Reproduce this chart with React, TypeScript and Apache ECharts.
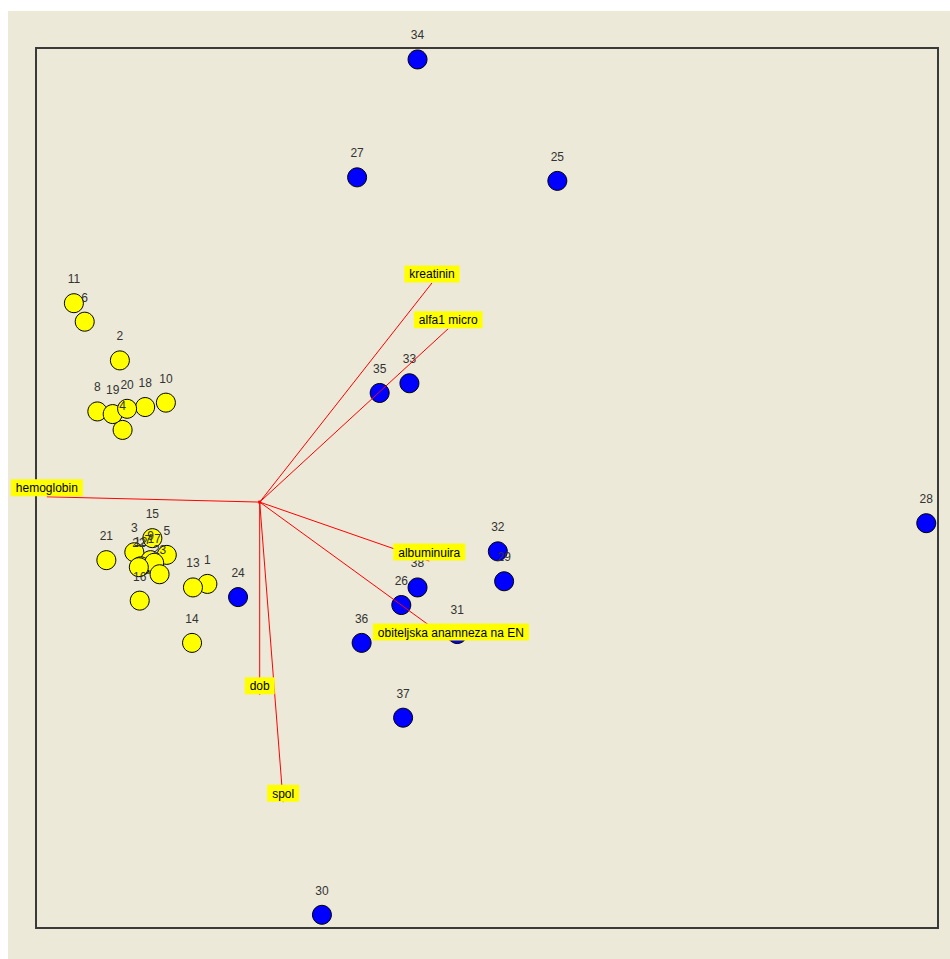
import React, { useEffect, useRef } from "react";
import * as echarts from "echarts";

// Object scores (biplot coordinates)
const groupAIds = [1, 2, 3, 4, 5, 6, 7, 8, 9, 10, 11, 12, 13, 14, 15, 16, 17, 18, 19, 20, 21, 22, 23];
const groupAX = [-3.10, -4.07, -3.91, -4.04, -3.55, -4.46, -3.76, -4.32, -3.73, -3.56, -4.58, -3.84, -3.26, -3.27, -3.71, -3.85, -3.69, -3.79, -4.15, -3.99, -4.22, -3.86, -3.63];
const groupAY = [-1.09, 1.45, -0.73, 0.66, -0.76, 1.89, -0.86, 0.87, -0.82, 0.97, 2.10, -0.89, -1.13, -1.76, -0.57, -1.28, -0.85, 0.92, 0.84, 0.90, -0.82, -0.90, -0.98];

const groupBIds = [24, 25, 26, 27, 28, 29, 30, 31, 32, 33, 34, 35, 36, 37, 38];
const groupBX = [-2.76, 0.78, -0.95, -1.44, 4.87, 0.19, -1.83, -0.33, 0.12, -0.86, -0.77, -1.19, -1.39, -0.93, -0.77];
const groupBY = [-1.24, 3.49, -1.33, 3.53, -0.40, -1.06, -4.85, -1.66, -0.72, 1.19, 4.87, 1.08, -1.76, -2.61, -1.13];

// Variable vectors
const origin = [-2.52, -0.16];
const varNames = ["hemoglobin", "kreatinin", "alfa1 micro", "albuminuira", "obiteljska anamneza na EN", "dob", "spol"];
const varX = [-4.88, -0.61, -0.43, -0.64, -0.40, -2.52, -2.26];
const varY = [-0.10, 2.33, 1.81, -0.83, -1.74, -2.35, -3.57];

const AX_MIN = -5;
const AX_MAX = 5;

export default function App() {
  const ref = useRef<HTMLDivElement>(null);
  useEffect(() => {
    if (!ref.current) return;
    const chart = echarts.init(ref.current, null, { renderer: "svg" });
    const font = "Liberation Sans, Arial, sans-serif";
    const pointLabel = {
      show: true,
      position: "top",
      distance: 8,
      color: "#333333",
      fontSize: 12,
      fontFamily: font,
      formatter: (p: any) => String(p.data[2]),
    };
    const pointSeries = (ids: number[], xs: number[], ys: number[], color: string, name: string) => ({
      type: "scatter",
      name,
      clip: false,
      symbol: "circle",
      symbolSize: 19,
      z: 2,
      itemStyle: { color, borderColor: "#000000", borderWidth: 1, opacity: 1 },
      label: pointLabel,
      data: ids.map((id, i) => [xs[i], ys[i], id]),
    });
    const lineSeries = varNames.map((n, i) => ({
      type: "line",
      name: "vec-" + n,
      clip: false,
      z: 5,
      symbol: "none",
      lineStyle: { color: "#ff0000", width: 1 },
      data: [origin, [varX[i], varY[i]]],
    }));
    const varLabelSeries = {
      type: "scatter",
      name: "varlabels",
      clip: false,
      z: 6,
      symbol: "circle",
      symbolSize: 1,
      itemStyle: { color: "rgba(0,0,0,0)", opacity: 1 },
      label: {
        show: true,
        position: "top",
        distance: 0,
        backgroundColor: "#ffff00",
        padding: [3, 5, 2, 5],
        color: "#000000",
        fontSize: 12,
        fontFamily: font,
        opacity: 1,
        formatter: (p: any) => p.data[2],
      },
      data: varNames.map((n, i) => [varX[i], varY[i], n]),
    };
    const originSeries = {
      type: "scatter",
      name: "origin",
      clip: false,
      z: 7,
      symbol: "rect",
      symbolSize: 3,
      itemStyle: { color: "#ff0000", opacity: 1 },
      data: [origin],
    };
    chart.setOption({
      animation: false,
      backgroundColor: "#ffffff",
      graphic: [
        {
          type: "rect",
          z: -10,
          silent: true,
          shape: { x: 8, y: 11, width: 942, height: 948 },
          style: { fill: "#ECE9D8" },
        },
      ],
      grid: {
        left: 36,
        top: 48,
        width: 902,
        height: 880,
        show: true,
        backgroundColor: "transparent",
        borderColor: "#3a3a3a",
        borderWidth: 2,
        z: 1,
      },
      xAxis: {
        type: "value",
        min: AX_MIN,
        max: AX_MAX,
        show: false,
        splitLine: { show: false },
      },
      yAxis: {
        type: "value",
        min: AX_MIN,
        max: AX_MAX,
        show: false,
        splitLine: { show: false },
      },
      series: [
        pointSeries(groupAIds, groupAX, groupAY, "#ffff00", "A"),
        pointSeries(groupBIds, groupBX, groupBY, "#0000ff", "B"),
        ...lineSeries,
        varLabelSeries,
        originSeries,
      ],
    });
    return () => chart.dispose();
  }, []);
  return (
    <div
      ref={ref}
      style={{ position: "absolute", left: 0, top: 0, width: 950, height: 959 }}
    />
  );
}
